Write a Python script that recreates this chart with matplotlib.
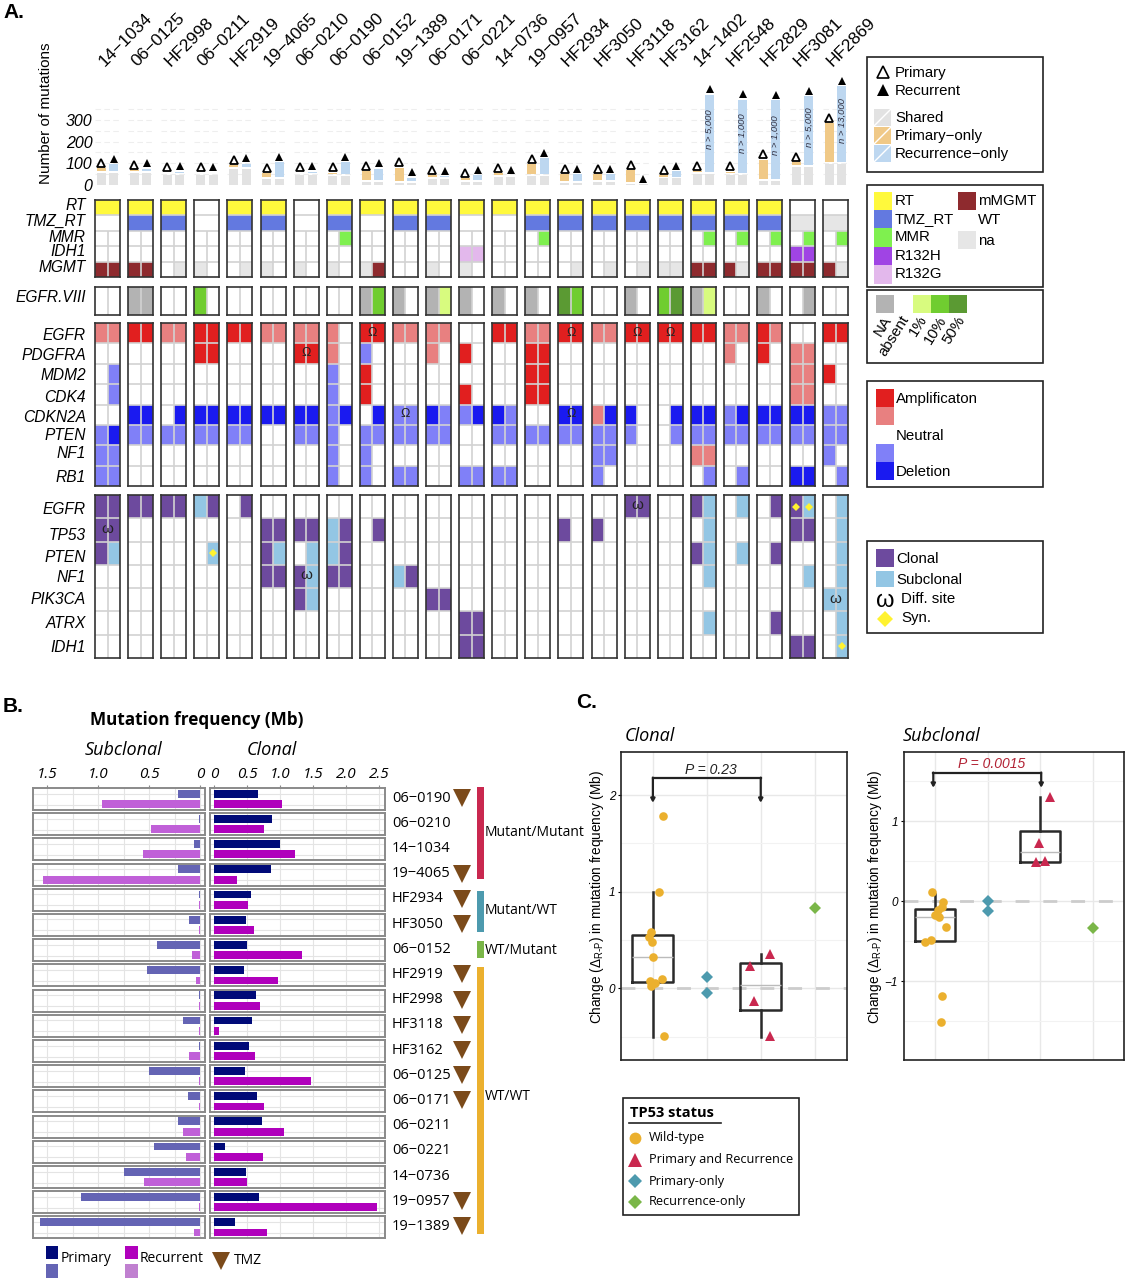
#!/usr/bin/env python3

import matplotlib
matplotlib.use("Agg")
import matplotlib.pyplot as plt
from matplotlib.patches import Rectangle

W, H = 1125, 1280
ARIAL = "Liberation Sans"
MYRIAD = "Open Sans"

plt.rcParams["font.family"] = [ARIAL, "DejaVu Sans"]
plt.rcParams["mathtext.default"] = "regular"

# ---------- panel A data ----------
PATIENTS = ["14−1034", "06−0125", "HF2998", "06−0211", "HF2919", "19−4065", "06−0210", "06−0190",
            "06−0152", "19−1389", "06−0171", "06−0221", "14−0736", "19−0957", "HF2934", "HF3050",
            "HF3118", "HF3162", "14−1402", "HF2548", "HF2829", "HF3081", "HF2869"]

SHARED = [55, 55, 45, 45, 72, 28, 45, 40, 12, 10, 28, 14, 35, 40, 10, 14, 3, 30, 50, 45, 18, 85, 95]
PRIMARY_ONLY = [14, 6, 3, 3, 12, 18, 3, 8, 42, 61, 10, 10, 12, 46, 30, 28, 55, 8, 5, 8, 90, 10, 180]
RECURRENCE_ONLY = [32, 12, 8, 3, 18, 68, 8, 55, 55, 15, 4, 22, 3, 74, 30, 28, 0, 26, 358, 340, 365, 315, 350]
N_NOTES = {18: "n > 5,000", 19: "n > 1,000", 20: "n > 1,000", 21: "n > 5,000", 22: "n > 13,000"}

CLIN_ROWS = ["RT", "TMZ_RT", "MMR", "IDH1", "MGMT"]
RT = ["YY", "YY", "YY", "..", "YY", "YY", "..", "YY", "YY", "YY", "YY", "YY", "YY", "YY", "YY", "YY",
      "YY", "YY", "YY", "YY", "YY", "..", ".."]
TMZ_RT = ["..", "TT", "TT", "..", "TT", "TT", "..", "TT", "..", "TT", "TT", "..", "..", "TT", "TT", "TT",
          "TT", "TT", "TT", "TT", "TT", "nn", "nn"]
MMR = ["..", "..", "..", "..", "..", "..", "..", ".H", "..", "..", "..", "..", "..", ".H", "..", "..",
       "..", "..", ".H", ".H", ".H", ".H", ".H"]
IDH1_ST = ["..", "..", "..", "..", "..", "..", "..", "..", "..", "..", "..", "gg", "..", "..", "..", "..",
           "..", "..", "..", "..", "..", "hh", ".."]
MGMT = ["MM", "MM", ".n", "n.", ".n", "n.", "n.", "n.", "nM", "..", "n.", "n.", "..", "..", ".n", ".n",
        ".n", "nn", "MM", "Mn", "MM", "MM", "Mn"]

VIII = ["..", "NN", "..", "2.", "..", "..", "..", "..", "N2", "N.", "N1", "N.", "N.", "N.", "32", "..",
        "N.", "23", "N1", "..", "N.", ".N", ".."]

CN_ROWS = ["EGFR", "PDGFRA", "MDM2", "CDK4", "CDKN2A", "PTEN", "NF1", "RB1"]
CN_EGFR = ["aa", "AA", "aa", "AA", "AA", "aa", "aa", "a.", "AA", "aa", "aa", "..", "AA", "aa", "AA", "aa",
           "AA", "AA", "AA", "aa", "Aa", "..", "AA"]
CN_PDGFRA = ["..", "..", "..", "AA", "..", "..", "AA", "a.", "d.", "..", "a.", "A.", "..", "AA", "..", "..",
             "..", "..", "..", "a.", "A.", "aa", ".."]
CN_MDM2 = [".d", "..", "..", "..", "..", "..", "..", "d.", "A.", "..", "..", "..", "..", "AA", "..", "..",
           "..", "..", "..", "..", "..", "aa", "A."]
CN_CDK4 = [".d", "..", "..", "..", "..", "..", "..", "d.", "A.", "..", "..", "A.", "..", "AA", "..", "..",
           "..", "..", "..", "..", "..", "aa", ".."]
CN_CDKN2A = ["..", "DD", ".D", "DD", "DD", "DD", "DD", "dD", ".D", "dd", "Dd", "dD", "Dd", "..", "DD", "aD",
             "D.", ".D", "DD", "dD", "DD", "DD", "dd"]
CN_PTEN = ["dD", "dd", "dd", "dd", "dd", "..", "dd", "d.", "dd", "dd", "dd", "..", "dd", "dd", "dd", "dd",
           "d.", ".d", "dd", "dd", "dd", "dd", "dd"]
CN_NF1 = ["dd", "..", "..", "..", "..", "..", "..", "d.", "d.", "..", "..", "..", "..", "..", "..", "dd",
          "..", "..", "aa", "..", "..", "..", "d."]
CN_RB1 = ["dd", "..", "..", "..", "..", "..", "..", "d.", "d.", "dd", "..", "dd", "dd", "..", "..", "d.",
          "..", "..", ".d", ".d", "..", "DD", ".d"]
CN_OMEGA = [(0, 8), (1, 6), (4, 9), (0, 14), (4, 14), (0, 16), (0, 17)]

MUT_ROWS = ["EGFR", "TP53", "PTEN", "NF1", "PIK3CA", "ATRX", "IDH1"]
M_EGFR = ["CC", "CC", "CC", "SC", ".C", "..", "..", "..", "..", "..", "..", "..", "..", "..", "..", "..",
          "CC", "..", "CS", ".S", ".C", "CS", ".S"]
M_TP53 = ["CC", "..", "..", "..", "..", "CC", "CC", "SC", ".C", "..", "..", "..", "..", "..", "C.", "C.",
          "..", "..", ".S", "..", "..", "CC", ".S"]
M_PTEN = ["CS", "..", "..", ".S", "..", "CS", ".S", "SC", "..", "..", "..", "..", "..", "..", "..", "..",
          "..", "..", "CS", ".S", ".C", "..", ".S"]
M_NF1 = ["..", "..", "..", "..", "..", "CC", "CS", "CC", "..", "SC", "..", "..", "..", "..", "..", "..",
         "..", "..", ".S", "..", "..", ".S", ".S"]
M_PIK3CA = ["..", "..", "..", "..", "..", "..", "CS", "..", "..", "..", "CC", "..", "..", "..", "..", "..",
            "..", "..", "..", "..", "..", "..", "SS"]
M_ATRX = ["..", "..", "..", "..", "..", "..", "..", "..", "..", "..", "..", "CC", "..", "..", "..", "..",
          "..", "..", ".S", "..", ".C", "..", ".S"]
M_IDH1 = ["..", "..", "..", "..", "..", "..", "..", "..", "..", "..", "..", "CC", "..", "..", "..", "..",
          "..", "..", "..", "..", "..", "CC", ".S"]
MUT_OMEGA = [(1, 0), (3, 6), (0, 16), (4, 22)]
MUT_SYN = [(2, 3, 1), (0, 21, 0), (0, 21, 1), (6, 22, 1)]

COLORES = {"Y": "#fff93c", "T": "#6379e0", "H": "#7ff04f", "h": "#a044e4", "g": "#e3b8ec",
           "M": "#8e2a2e", "n": "#e6e6e6",
           "N": "#b3b3b3", "1": "#d8fb7f", "2": "#70cd30", "3": "#5b9a33",
           "A": "#e11f1f", "a": "#e88080", "d": "#8080f8", "D": "#1a1af0",
           "C": "#6d4a9e", "S": "#93c6e4"}

# ---------- panel B data ----------
B_SAMPLES = ["06−0190", "06−0210", "14−1034", "19−4065", "HF2934", "HF3050", "06−0152", "HF2919", "HF2998",
             "HF3118", "HF3162", "06−0125", "06−0171", "06−0211", "06−0221", "14−0736", "19−0957", "19−1389"]
SUB_PRIMARY = [.22, .01, .06, .22, .01, .11, .42, .52, .01, .165, .01, .50, .115, .22, .455, .75, 1.17, 1.57]
SUB_RECUR = [.96, .48, .56, 1.54, .01, .01, .08, .035, .01, .01, .11, .01, .01, .165, .14, .55, .01, .055]
CLO_PRIMARY = [.66, .88, 1.0, .855, .56, .48, .5, .45, .63, .57, .53, .47, .65, .73, .16, .48, .68, .32]
CLO_RECUR = [1.02, .75, 1.23, .35, .51, .6, 1.33, .97, .70, .07, .61, 1.46, .75, 1.06, .74, .5, 2.46, .8]
TMZ_SAMPLES = ["06−0190", "19−4065", "HF2934", "HF3050", "HF2919", "HF2998", "HF3118", "HF3162", "06−0125",
               "06−0171", "19−0957", "19−1389"]
GROUP_NAMES = ["Mutant/Mutant", "Mutant/WT", "WT/Mutant", "WT/WT"]

# ---------- panel C data ----------
CL_WT_X = [.18, .105, -.03, -.08, -.02, 0, .17, -.05, .03, -.04, .2]
CL_WT_Y = [1.78, 1.0, .58, .53, .48, .33, .10, .08, .06, .025, -.49]
CL_TP_X = [.18, -.19, -.13, .18]
CL_TP_Y = [.36, .235, -.125, -.49]
CL_PO_Y = [.12, -.05]
CL_RO_Y = [.835]
CL_BOX_WT = {"q1": .07, "med": .33, "q3": .55, "whislo": -.5, "whishi": 1.0}
CL_BOX_TP = {"q1": -.22, "med": .04, "q3": .26, "whislo": -.5, "whishi": .355}

SU_WT_X = [-.06, .16, .14, .05, .005, .075, .21, -.075, -.19, .14, .11]
SU_WT_Y = [.115, -.005, -.07, -.11, -.165, -.2, -.32, -.485, -.505, -1.18, -1.51]
SU_TP_X = [.18, -.02, -.075, .1]
SU_TP_Y = [1.31, .735, .49, .5]
SU_PO_Y = [0, -.115]
SU_RO_Y = [-.335]
SU_BOX_WT = {"q1": -.5, "med": -.2, "q3": -.09, "whislo": -.5, "whishi": .095}
SU_BOX_TP = {"q1": .49, "med": .62, "q3": .88, "whislo": .49, "whishi": 1.31}

C_WT = "#ebb02e"
C_TP = "#c9284f"
C_PO = "#4d9aae"
C_RO = "#7ab648"

fig = plt.figure(figsize=(W / 100, H / 100), dpi=100)


def ax_px(x0, y0, x1, y1):
    return fig.add_axes([x0 / W, 1 - y1 / H, (x1 - x0) / W, (y1 - y0) / H])


# capa de pixeles para textos y leyendas
ov = fig.add_axes([0, 0, 1, 1], zorder=50)
ov.set_xlim(0, W)
ov.set_ylim(H, 0)
ov.axis("off")


def txt(x, y, s, size=10.8, ha="left", va="center", family=ARIAL, **kw):
    ov.text(x, y, s, fontsize=size, ha=ha, va=va, family=[family, "DejaVu Sans"], **kw)


def swatch(x0, y0, x1, y1, color):
    ov.add_patch(Rectangle((x0, y0), x1 - x0, y1 - y0, facecolor=color, edgecolor="none"))


def caja(x0, y0, x1, y1):
    ov.add_patch(Rectangle((x0, y0), x1 - x0, y1 - y0, facecolor="none", edgecolor="#222222", lw=1.2))


# ---------- panel A ----------
BOX_X0 = 95.0
STEP = 33.1
BOX_W = 25.0


def celdas(p, y0, y1, filas, merged=0, sin_horizontal=False):
    x0 = BOX_X0 + p * STEP
    ax = ax_px(x0, y0, x0 + BOX_W, y1)
    n = len(filas)
    ax.set_xlim(0, 2)
    ax.set_ylim(n, 0)
    ax.set_xticks([])
    ax.set_yticks([])
    for r, fila in enumerate(filas):
        for c, code in enumerate(fila[p]):
            if code != ".":
                ax.bar(c + .5, 1, width=1, bottom=r, color=COLORES[code], linewidth=0)
    if not sin_horizontal:
        ax.hlines(range(1, n), 0, 2, color="#d2d2d2", lw=1.2)
    ax.vlines(1, merged, n, color="#d2d2d2", lw=1.2)
    for s in ax.spines.values():
        s.set_color("#333333")
        s.set_linewidth(1.2)
    return ax


CLIN_DATA = [RT, TMZ_RT, MMR, IDH1_ST, MGMT]
CN_DATA = [CN_EGFR, CN_PDGFRA, CN_MDM2, CN_CDK4, CN_CDKN2A, CN_PTEN, CN_NF1, CN_RB1]
MUT_DATA = [M_EGFR, M_TP53, M_PTEN, M_NF1, M_PIK3CA, M_ATRX, M_IDH1]

for p, nombre in enumerate(PATIENTS):
    x0 = BOX_X0 + p * STEP

    # nombre del paciente
    txt(x0 + 6, 64, nombre, size=12.5, rotation=45, rotation_mode="anchor")

    # barras de mutaciones
    ax = ax_px(x0, 75, x0 + BOX_W, 185)
    ax.set_xlim(0, 2)
    ax.set_ylim(0, 507)
    ax.patch.set_alpha(0)
    for s in ax.spines.values():
        s.set_visible(False)
    ax.set_xticks([])
    ax.set_yticks([0, 100, 200, 300])
    ax.set_yticks([50, 150, 250, 350], minor=True)
    ax.set_axisbelow(True)
    ax.grid(axis="y", which="both", color="#eeeeee", lw=.8, ls=(0, (5, 3)))
    ax.tick_params(axis="y", which="minor", length=0)
    if p == 0:
        ax.tick_params(axis="y", length=0, pad=2)
        ax.set_yticklabels(["0", "100", "200", "300"], fontsize=11.5, style="italic")
    else:
        ax.tick_params(axis="y", length=0, labelleft=False)
    GAP = 9
    ax.bar([.5, 1.5], SHARED[p], width=.72, color="#e2e2e2")
    top_p = SHARED[p] + GAP + PRIMARY_ONLY[p]
    top_r = SHARED[p] + GAP + RECURRENCE_ONLY[p] if RECURRENCE_ONLY[p] else SHARED[p]
    ax.bar(.5, PRIMARY_ONLY[p], bottom=SHARED[p] + GAP, width=.72, color="#f0c987")
    ax.bar(1.5, RECURRENCE_ONLY[p], bottom=SHARED[p] + GAP, width=.72, color="#bdd7f0")
    ax.plot(.5, top_p + 24, marker="^", ms=5.2, mfc="white", mec="black", mew=1.3, clip_on=False)
    ax.plot(1.5, top_r + 24, marker="^", ms=5.8, color="black", mew=0, clip_on=False)
    if p in N_NOTES:
        ax.text(1.5, SHARED[p] + GAP + RECURRENCE_ONLY[p] * .55, N_NOTES[p], rotation=90, fontsize=6.8,
                style="italic", ha="center", va="center", color="#333344")

    # filas de estado clinico, EGFRvIII, copia y mutacion
    ax = celdas(p, 199.5, 277, CLIN_DATA, merged=2)
    celdas(p, 287, 314.5, [VIII], sin_horizontal=True)
    ax = celdas(p, 323, 486, CN_DATA)
    for r, q in CN_OMEGA:
        if q == p:
            ax.text(1, r + .47, "Ω", ha="center", va="center", fontsize=9, color="#222222")
    ax = celdas(p, 495, 658, MUT_DATA)
    for r, q in MUT_OMEGA:
        if q == p:
            ax.text(1, r + .45, "ω", ha="center", va="center", fontsize=11, color="#222222")
    for r, q, c in MUT_SYN:
        if q == p:
            ax.plot(c + .5, r + .5, marker="D", ms=4.2, color="#fff230", mew=0)

for nombre, y in zip(CLIN_ROWS, [206, 221, 237, 252, 268]):
    txt(86, y, nombre, ha="right", style="italic", size=11.2)
txt(86, 298, "EGFR.VIII", ha="right", style="italic", size=11.2)
for nombre, y in zip(CN_ROWS, [335, 355, 376, 397, 418, 436, 454, 478]):
    txt(86, y, nombre, ha="right", style="italic", size=11.2)
for nombre, y in zip(MUT_ROWS, [510, 535, 557, 578, 600, 623, 647]):
    txt(86, y, nombre, ha="right", style="italic", size=11.2)

txt(46, 113, "Number of mutations", rotation=90, ha="center", size=11)
txt(3, 12, "A.", size=15, weight="bold")
txt(3, 707, "B.", size=15, weight="bold")
txt(576, 702, "C.", size=15, weight="bold")

# leyenda 1
caja(867, 57, 1043, 172)
ov.plot(883, 72, marker="^", ms=8, mfc="white", mec="black", mew=1.2)
ov.plot(883, 90, marker="^", ms=9, color="black", mew=0)
txt(895, 73, "Primary")
txt(895, 91, "Recurrent")
for y0, col, s in [(109, "#e2e2e2", "Shared"), (127, "#f0c987", "Primary−only"), (145, "#bdd7f0", "Recurrence−only")]:
    swatch(874, y0, 891, y0 + 17, col)
    ov.plot([874, 891], [y0 + 17, y0], color="white", lw=1)
    txt(895, y0 + 9, s)

# leyenda 2
caja(867, 185, 1043, 287)
for y0, col, s in zip([192, 210, 228, 247, 265], ["Y", "T", "H", "h", "g"],
                      ["RT", "TMZ_RT", "MMR", "R132H", "R132G"]):
    swatch(874, y0, 892, y0 + 18.5, COLORES[col])
    txt(895, y0 + 9, s)
swatch(958, 192, 976, 210, COLORES["M"])
txt(978, 201, "mMGMT")
txt(978, 220, "WT")
swatch(958, 231, 976, 249, COLORES["n"])
txt(978, 241, "na")

# leyenda 3
caja(867, 290, 1043, 363)
for x, col in zip([876, 895, 913, 931, 949], ["N", None, "1", "2", "3"]):
    if col:
        swatch(x, 295, x + 18, 313, COLORES[col])
for x, s in zip([888, 906, 924, 943, 962], ["NA", "absent", "1%", "10%", "50%"]):
    txt(x, 317, s, ha="right", rotation=58, rotation_mode="anchor", size=10.8)

# leyenda 4
caja(867, 381, 1043, 487)
for y0, col in [(389, "A"), (407, "a"), (444, "d"), (462, "D")]:
    swatch(876, y0, 894, y0 + 18, COLORES[col])
txt(896, 399, "Amplificaton")
txt(896, 436, "Neutral")
txt(896, 472, "Deletion")

# leyenda 5
caja(867, 541, 1043, 633)
swatch(876, 549, 894, 567, COLORES["C"])
swatch(876, 571, 894, 587, COLORES["S"])
txt(896, 559, "Clonal")
txt(896, 580, "Subclonal")
txt(885, 601, "ω", ha="center", size=17)
txt(901, 599, "Diff. site")
ov.plot(885, 619, marker="D", ms=8.5, color="#fff230", mew=0)
txt(901, 618, "Syn.")

# ---------- panel B ----------
ROW_H = 22
ROW_STEP = 25.2
for i, nombre in enumerate(B_SAMPLES):
    y0 = 788 + i * ROW_STEP
    y1 = y0 + ROW_H

    ax1 = ax_px(33, y0, 204.6, y1)
    ax1.set_xlim(1.642, -.045)
    ax1.set_ylim(2, 0)
    ax1.barh([.52], SUB_PRIMARY[i], height=.72, color="#6464b4", zorder=3)
    ax1.barh([1.46], SUB_RECUR[i], height=.72, color="#c060d8", zorder=3)
    ax1.set_xticks([0, .5, 1.0, 1.5])
    ax1.set_xticks([.25, .75, 1.25], minor=True)

    ax2 = ax_px(209.6, y0, 384.6, y1)
    ax2.set_xlim(-.071, 2.58)
    ax2.set_ylim(2, 0)
    ax2.barh([.52], CLO_PRIMARY[i], height=.72, color="#000a78", zorder=3)
    ax2.barh([1.46], CLO_RECUR[i], height=.72, color="#b000bc", zorder=3)
    ax2.set_xticks([0, .5, 1.0, 1.5, 2.0, 2.5])

    for ax in (ax1, ax2):
        ax.set_yticks([.5, 1.5])
        ax.grid(True, which="both", color="#e4e4e4", lw=.8)
        ax.set_axisbelow(True)
        ax.tick_params(axis="both", which="both", length=0, labelleft=False, labelbottom=False)
        for s in ax.spines.values():
            s.set_color("#8a8a8a")
            s.set_linewidth(1.4)
        if i == 0:
            ax.xaxis.tick_top()
            ax.tick_params(axis="x", which="major", length=2, color="#8a8a8a", pad=2, labeltop=True, labelbottom=False)
    if i == 0:
        ax1.set_xticklabels(["0", "0.5", "1.0", "1.5"], fontsize=11, style="italic", family=MYRIAD)
        ax2.set_xticklabels(["0", "0.5", "1.0", "1.5", "2.0", "2.5"], fontsize=11, style="italic", family=MYRIAD)

    txt(392, y0 + 10, nombre, family=MYRIAD, size=10.5)
    if nombre in TMZ_SAMPLES:
        ov.plot(462, y0 + 10, marker="v", ms=13, color="#7b4a1a", mew=0)

for (y0, y1, col), nombre, yt in zip([(787, 879, C_TP), (891, 932, C_PO), (941, 958, C_RO), (967, 1234, C_WT)],
                                     GROUP_NAMES, [832, 911, 951, 1096]):
    swatch(477, y0, 484, y1, col)
    txt(485, yt, nombre, family=MYRIAD, size=10)

txt(197, 720, "Mutation frequency (Mb)", ha="center", size=12.3, weight="bold", family=MYRIAD)
txt(123, 750, "Subclonal", ha="center", size=13, style="italic", family=MYRIAD)
txt(272, 750, "Clonal", ha="center", size=13, style="italic", family=MYRIAD)

swatch(46, 1246, 57.5, 1259, "#000a78")
swatch(46, 1264, 57.5, 1278, "#6464b4")
swatch(124.6, 1246, 137.5, 1259, "#b000bc")
swatch(124.6, 1264, 137.5, 1278, "#c080d0")
txt(61, 1259, "Primary", family=MYRIAD, size=10)
txt(140, 1259, "Recurrent", family=MYRIAD, size=10)
ov.plot(221, 1261, marker="v", ms=13, color="#7b4a1a", mew=0)
txt(234, 1261, "TMZ", family=MYRIAD, size=10)


# ---------- panel C ----------
def panel_c(x0, x1, ylim, xlim, ymaj, ymin, wt_x, wt_y, tp_x, tp_y, po_y, ro_y, boxes):
    ax = ax_px(x0, 752, x1, 1060)
    ax.set_xlim(*xlim)
    ax.set_ylim(*ylim)
    ax.set_xticks([1, 2, 3, 4])
    ax.set_yticks(ymaj)
    ax.set_yticks(ymin, minor=True)
    ax.set_yticklabels([str(v).replace("-", "−") for v in ymaj], fontsize=8.5, style="italic")
    ax.tick_params(axis="x", length=0, labelbottom=False)
    ax.tick_params(axis="y", which="major", length=2.5, width=.8, pad=2)
    ax.tick_params(axis="y", which="minor", length=0)
    ax.grid(True, which="major", color="#e8e8e8", lw=1)
    ax.grid(True, which="minor", axis="y", color="#f2f2f2", lw=.8)
    ax.set_axisbelow(True)
    ax.axhline(0, color="#cccccc", lw=2, ls=(0, (5, 5)), zorder=1)
    stats = [dict(b, fliers=[]) for b in boxes]
    ax.bxp(stats, positions=[1, 3], widths=.76, showcaps=False, showfliers=False, manage_ticks=False,
           boxprops=dict(color="#2a2a2a", lw=1.8), whiskerprops=dict(color="#2a2a2a", lw=1.8),
           medianprops=dict(color="#bbbbbb", lw=1), zorder=2)
    ax.plot([1 + v for v in wt_x], wt_y, "o", color=C_WT, ms=6.2, mew=0, zorder=4)
    ax.plot([3 + v for v in tp_x], tp_y, "^", color=C_TP, ms=7, mew=0, zorder=4)
    ax.plot([2] * len(po_y), po_y, "D", color=C_PO, ms=6.5, mew=0, zorder=4)
    ax.plot([4] * len(ro_y), ro_y, "D", color=C_RO, ms=6.5, mew=0, zorder=4)
    for s in ax.spines.values():
        s.set_color("#222222")
        s.set_linewidth(1.2)
    return ax


def corchete(ax, xa, xb, y_top, y_bot):
    ax.plot([xa, xb], [y_top, y_top], color="#222222", lw=1.6, zorder=5)
    for x in (xa, xb):
        ax.annotate("", xy=(x, y_bot), xytext=(x, y_top),
                    arrowprops=dict(arrowstyle="-|>,head_width=.12,head_length=.22", color="#222222", lw=1.6,
                                    shrinkA=0, shrinkB=0))


ax = panel_c(621.4, 847, (-.74, 2.445), (.416, 4.6), [0, 1, 2], [-.5, .5, 1.5],
             CL_WT_X, CL_WT_Y, CL_TP_X, CL_TP_Y, CL_PO_Y, CL_RO_Y, [CL_BOX_WT, CL_BOX_TP])
corchete(ax, 1, 3, 2.18, 1.92)
ax.text(2.08, 2.26, "P = 0.23", style="italic", ha="center", va="center", fontsize=10, color="#222222")

ax = panel_c(904, 1124, (-1.983, 1.867), (.413, 4.593), [-1, 0, 1], [-1.5, -.5, .5, 1.5],
             SU_WT_X, SU_WT_Y, SU_TP_X, SU_TP_Y, SU_PO_Y, SU_RO_Y, [SU_BOX_WT, SU_BOX_TP])
corchete(ax, .97, 3.02, 1.61, 1.42)
ax.text(2.07, 1.715, "P = 0.0015", style="italic", ha="center", va="center", fontsize=10, color="#b22234")

for x in (597, 875):
    txt(x, 897, r"Change ($\Delta_{R\text{-}P}$) in mutation frequency (Mb)", rotation=90, ha="center", size=9.8)
txt(625, 736, "Clonal", size=13, style="italic", family=MYRIAD)
txt(903, 736, "Subclonal", size=13, style="italic", family=MYRIAD)

caja(622.5, 1098, 799, 1215)
txt(630, 1113, "TP53 status", weight="bold", size=10.5, family=MYRIAD)
ov.plot([629, 721], [1123, 1123], color="#222222", lw=1.2)
for y, mk, col, ms, s in [(1138, "o", C_WT, 8.5, "Wild-type"), (1160, "^", C_TP, 10, "Primary and Recurrence"),
                          (1181, "D", C_PO, 7.5, "Primary-only"), (1202, "D", C_RO, 7.5, "Recurrence-only")]:
    ov.plot(635, y, marker=mk, color=col, ms=ms, mew=0)
    txt(649, y, s, family=MYRIAD, size=9.2)

ov.set_xlim(0, W)
ov.set_ylim(H, 0)
fig.savefig("out.png", dpi=100)
